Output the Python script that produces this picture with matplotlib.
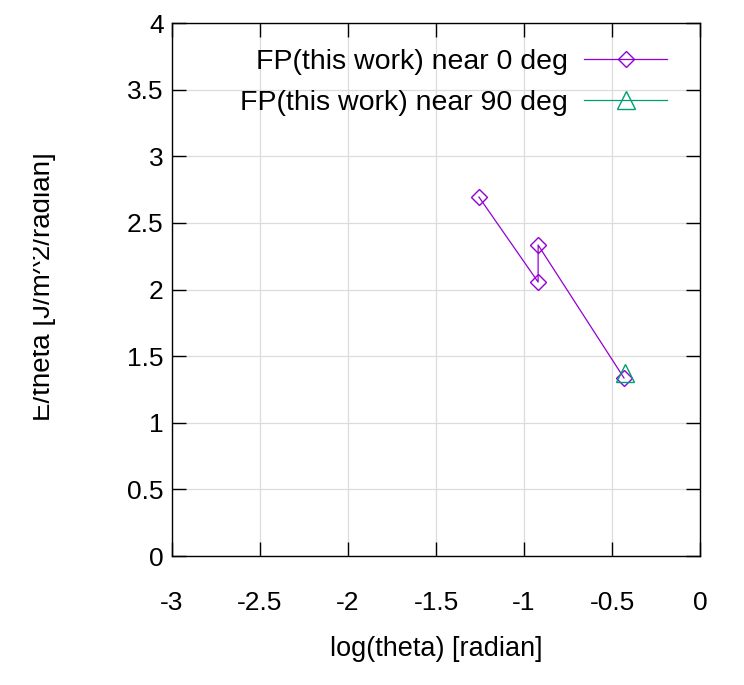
import matplotlib
matplotlib.use('Agg')
import numpy as np
import matplotlib.pyplot as plt
from matplotlib.patches import Rectangle

plt.rcParams['font.family'] = ['Liberation Sans', 'DejaVu Sans']

# data
theta0_log = [-1.256, -0.920, -0.920, -0.432]
energy0 = [2.694, 2.056, 2.334, 1.336]
theta90_log = [-0.428]
energy90 = [1.370]

xticks = np.arange(-3, 0.01, 0.5)
yticks = np.arange(0, 4.01, 0.5)
xticklabels = ['-3', '-2.5', '-2', '-1.5', '-1', '-0.5', '0']
yticklabels = ['0', '0.5', '1', '1.5', '2', '2.5', '3', '3.5', '4']

fig = plt.figure(figsize=(7.44, 6.85), dpi=100)
ax = fig.add_axes([0.2312, 0.1883, 0.7097, 0.7781])

ax.plot(theta0_log, energy0, '-', color='#9400d3', lw=0.9, marker='D',
        ms=8, mfc='none', mew=1.0, label='FP(this work) near 0 deg')
ax.plot(theta90_log, energy90, '-', color='#009e73', lw=0.9, marker='^',
        ms=13, mfc='none', mew=1.0, label='FP(this work) near 90 deg')

ax.set_xlim(-3, 0)
ax.set_ylim(0, 4)
ax.set_xticks(xticks)
ax.set_xticklabels(xticklabels)
ax.set_yticks(yticks)
ax.set_yticklabels(yticklabels)
ax.tick_params(direction='in', top=True, right=True, length=10, width=1,
               labelsize=19)
ax.tick_params(axis='x', pad=25)
ax.tick_params(axis='y', pad=6)
ax.grid(True, color='#dcdcdc', lw=0.9)
ax.set_axisbelow(True)
for s in ax.spines.values():
    s.set_linewidth(1.0)

ax.set_xlabel('log(theta) [radian]', fontsize=19.5, labelpad=15)
fig.text(56 / 744, 0.581, 'E/theta [J/m^2/radian]', rotation=90, fontsize=20,
         ha='right', va='center')
# the reference label is cut off at its left side
fig.patches.append(Rectangle((0, 0), 33 / 744, 1, transform=fig.transFigure,
                             facecolor='white', edgecolor='none', zorder=10))

leg = ax.legend(loc='upper right', bbox_to_anchor=(0.9375, 0.952),
                frameon=False, fontsize=20.5, markerfirst=False,
                handlelength=2.9, numpoints=1, labelspacing=0.55,
                borderaxespad=0, borderpad=0, handletextpad=0.6)
for t in leg.get_texts():
    t.set_ha('right')
leg._legend_box.align = 'right'

fig.savefig('out.png', dpi=100)
